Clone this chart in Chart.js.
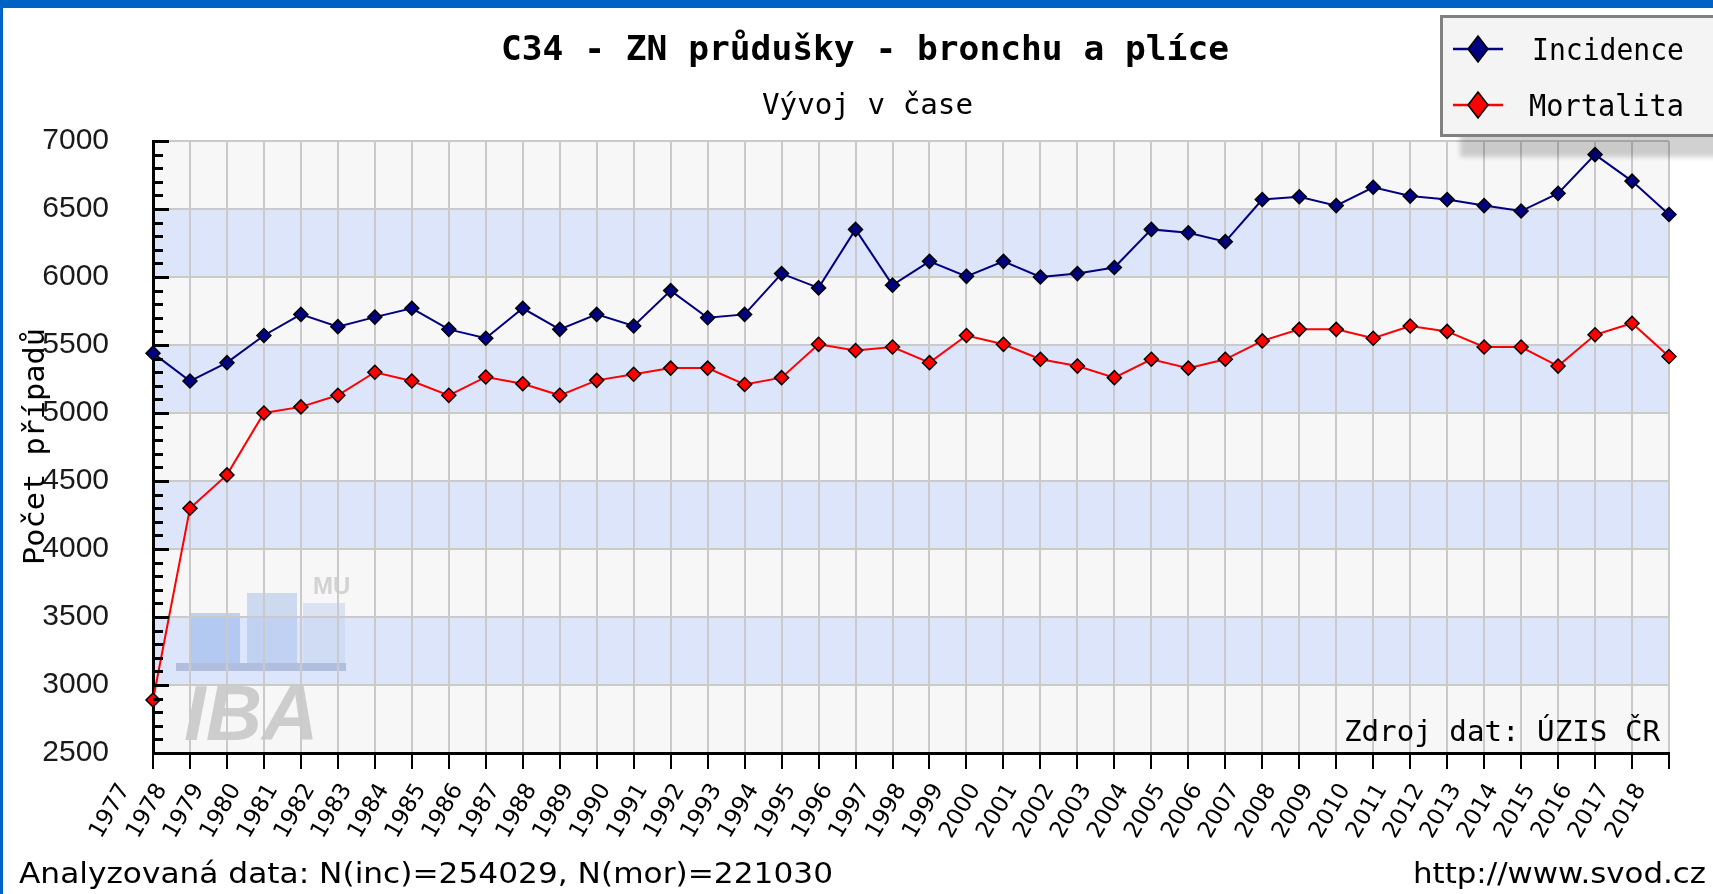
<!DOCTYPE html>
<html>
<head>
<meta charset="utf-8">
<script src="https://cdn.jsdelivr.net/npm/chart.js@4.4.1/dist/chart.umd.min.js"></script>
<style>
html,body{margin:0;padding:0;background:#fff;}
#wrap{position:relative;width:1713px;height:894px;overflow:hidden;background:#fff;}
#c{position:absolute;left:0;top:0;}
.t{position:absolute;white-space:pre;line-height:1;transform-origin:0 0;color:#000;}
#topbar{position:absolute;left:0;top:0;width:1713px;height:8px;background:#0062c4;}
#leftbar{position:absolute;left:0;top:0;width:3px;height:894px;background:#0062c4;}
#legend{position:absolute;left:1440px;top:15px;width:300px;height:116px;border:3px solid #808080;background:#f4f4f4;box-shadow:20px 20px 5px rgba(0,0,0,0.18);}
.lg{position:absolute;}
</style>
</head>
<body>
<div id="wrap">
  <canvas id="c" width="1713" height="894"></canvas>
  <div id="topbar"></div>
  <div id="leftbar"></div>
  <div id="legend"></div>
</div>
<script>
// ---- data ----
const years = ['1977','1978','1979','1980','1981','1982','1983','1984','1985','1986','1987','1988','1989','1990',
  '1991','1992','1993','1994','1995','1996','1997','1998','1999','2000','2001','2002','2003','2004',
  '2005','2006','2007','2008','2009','2010','2011','2012','2013','2014','2015','2016','2017','2018'];
const incidence = [5440,5235,5370,5570,5725,5635,5705,5770,5615,5550,5770,5615,5725,5640,
  5900,5700,5725,6025,5920,6350,5940,6115,6005,6115,6000,6025,6070,6350,
  6325,6260,6570,6590,6525,6660,6595,6570,6525,6485,6615,6900,6705,6460];
const mortality = [2890,4300,4545,5000,5045,5130,5300,5235,5130,5265,5215,5130,5240,5285,
  5330,5330,5210,5260,5505,5460,5485,5370,5570,5505,5395,5345,5260,5395,
  5330,5395,5530,5615,5615,5550,5640,5600,5485,5485,5345,5575,5660,5415];
const yTickValues = [2500,3000,3500,4000,4500,5000,5500,6000,6500,7000];
const seriesNames = ['Incidence','Mortalita'];
const titleText = 'C34 - ZN průdušky - bronchu a plíce';
const subtitleText = 'Vývoj v čase';
const yTitleText = 'Počet případů';
const footerLeft = 'Analyzovaná data: N(inc)=254029, N(mor)=221030';
const footerRight = 'http://www.svod.cz';
const sourceText = 'Zdroj dat: ÚZIS ČR';

// ---- plugins ----
const bandsPlugin = {
  id: 'bands',
  beforeDraw(chart) {
    const {ctx, chartArea: a, scales: {y}} = chart;
    ctx.save();
    ctx.fillStyle = '#f7f7f7';
    ctx.fillRect(a.left, a.top, a.right - a.left, a.bottom - a.top);
    ctx.fillStyle = '#dde5fb';
    for (let i = 0; i < yTickValues.length - 1; i++) {
      if (i % 2 === 1) {
        const y1 = y.getPixelForValue(yTickValues[i + 1]);
        const y0 = y.getPixelForValue(yTickValues[i]);
        ctx.fillRect(a.left, y1, a.right - a.left, y0 - y1);
      }
    }
    // IBA watermark
    ctx.globalAlpha = 0.55;
    ctx.fillStyle = '#8fb2ea';
    ctx.fillRect(190, 613, 50, 50);
    ctx.fillStyle = '#a9c1ea';
    ctx.fillRect(247, 593, 50, 70);
    ctx.fillStyle = '#c4d3ee';
    ctx.fillRect(303, 603, 42, 60);
    ctx.fillStyle = '#8d9fc8';
    ctx.fillRect(176, 663, 170, 8);
    ctx.globalAlpha = 1;
    ctx.fillStyle = '#cdcdcd';
    ctx.font = 'italic bold 78px "Liberation Sans"';
    ctx.textBaseline = 'alphabetic';
    ctx.fillText('IBA', 184, 740);
    ctx.font = 'bold 24px "Liberation Sans"';
    ctx.fillStyle = '#d2d2d2';
    ctx.fillText('MU', 313, 594);
    ctx.restore();
  }
};
const yTicksPlugin = {
  id: 'yInwardTicks',
  afterDatasetsDraw(chart) {
    const {ctx, chartArea: a, scales: {y}} = chart;
    ctx.save();
    ctx.strokeStyle = '#000';
    ctx.lineWidth = 3;
    const lo = yTickValues[0], hi = yTickValues[yTickValues.length - 1];
    for (let v = lo; v <= hi; v += 100) {
      const py = Math.round(y.getPixelForValue(v)) + 0.5;
      const len = (v % 500 === 0) ? 16 : 10;
      ctx.beginPath();
      ctx.moveTo(a.left, py);
      ctx.lineTo(a.left + len, py);
      ctx.stroke();
    }
    ctx.restore();
  }
};

const ctx = document.getElementById('c').getContext('2d');
const chart = new Chart(ctx, {
  type: 'line',
  data: {
    labels: years,
    datasets: [
      {
        label: seriesNames[0], data: incidence,
        borderColor: '#000080', backgroundColor: '#000080', borderWidth: 2,
        pointStyle: 'rectRot', pointRadius: 7, pointBorderColor: '#000', pointBorderWidth: 1.5,
        pointBackgroundColor: '#000080', tension: 0, clip: false
      },
      {
        label: seriesNames[1], data: mortality,
        borderColor: '#ff0000', backgroundColor: '#ff0000', borderWidth: 2,
        pointStyle: 'rectRot', pointRadius: 7, pointBorderColor: '#000', pointBorderWidth: 1.5,
        pointBackgroundColor: '#ff0000', tension: 0, clip: false
      }
    ]
  },
  options: {
    responsive: false,
    animation: false,
    devicePixelRatio: 1,
    layout: {padding: {top: 141, right: 44, left: 0, bottom: 0}},
    plugins: {legend: {display: false}, title: {display: false}, tooltip: {enabled: false}},
    scales: {
      x: {
        type: 'category',
        offset: false,
        grid: {color: '#cacaca', lineWidth: 2, tickColor: '#000', tickWidth: 2, tickLength: 16},
        border: {color: '#000', width: 3},
        ticks: {autoSkip: false, maxRotation: 60, minRotation: 60, padding: 10, labelOffset: -28,
          color: '#000', font: {family: 'DejaVu Sans', size: 23}},
        afterFit(s) { s.height = 141; s.paddingLeft = 0; s.paddingRight = 0; }
      },
      y: {
        min: yTickValues[0], max: yTickValues[yTickValues.length - 1],
        afterBuildTicks(s) { s.ticks = yTickValues.map(v => ({value: v})); },
        grid: {color: '#cacaca', lineWidth: 2, drawTicks: false},
        border: {color: '#000', width: 3},
        ticks: {padding: 44, color: '#1a1a1a', font: {family: 'Liberation Sans', size: 30},
          callback: (v) => String(v)},
        afterFit(s) { s.width = 153; s.paddingTop = 0; s.paddingBottom = 0; }
      }
    }
  },
  plugins: [bandsPlugin, yTicksPlugin]
});

// ---- HTML text overlays ----
const wrap = document.getElementById('wrap');
function placeText(parent, txt, o) {
  const s = document.createElement('span');
  s.className = 't';
  s.textContent = txt;
  s.style.font = `${o.weight || 'normal'} ${o.size}px ${o.family}`;
  if (o.color) s.style.color = o.color;
  parent.appendChild(s);
  const w = s.getBoundingClientRect().width;
  const sx = o.len / w;
  const base = o.size * (o.asc || 0.846);
  if (o.rotate) {
    s.style.left = (o.baseX - base) + 'px';
    s.style.top = o.startY + 'px';
    s.style.transform = `rotate(-90deg) scaleX(${sx})`;
  } else {
    s.style.left = o.x + 'px';
    s.style.top = (o.baseline - base - 3) + 'px';
    s.style.transform = `scaleX(${sx})`;
  }
  return s;
}
const MONO = '"DejaVu Sans Mono"';
placeText(wrap, titleText, {x: 501, len: 728, baseline: 60, size: 33, weight: 'bold', family: MONO});
placeText(wrap, subtitleText, {x: 762, len: 211, baseline: 115, size: 29, family: MONO});
placeText(wrap, yTitleText, {rotate: true, baseX: 42, startY: 565, len: 237, size: 29, family: MONO});
placeText(wrap, sourceText, {x: 1344, len: 316, baseline: 742, size: 28, family: MONO});
placeText(wrap, footerLeft, {x: 19, len: 814, baseline: 884, size: 29, family: '"DejaVu Sans"'});
placeText(wrap, footerRight, {x: 1413, len: 293, baseline: 884, size: 29, family: '"DejaVu Sans"'});

// legend (positions relative to legend box: left 1440+3, top 15+3)
const legend = document.getElementById('legend');
const lx = 1443, ly = 18;
const legendColors = ['#000080', '#ff0000'];
const legendRows = [49, 105];
const legendTextX = [1532, 1529];
seriesNames.forEach((name, i) => {
  const cy = legendRows[i];
  const svgNS = 'http://www.w3.org/2000/svg';
  const svg = document.createElementNS(svgNS, 'svg');
  svg.setAttribute('width', '60'); svg.setAttribute('height', '34');
  svg.setAttribute('class', 'lg');
  svg.style.left = (1450 - lx) + 'px';
  svg.style.top = (cy - 17 - ly) + 'px';
  const line = document.createElementNS(svgNS, 'line');
  line.setAttribute('x1', '3'); line.setAttribute('x2', '53');
  line.setAttribute('y1', '17'); line.setAttribute('y2', '17');
  line.setAttribute('stroke', legendColors[i]); line.setAttribute('stroke-width', '2.5');
  svg.appendChild(line);
  const dia = document.createElementNS(svgNS, 'polygon');
  dia.setAttribute('points', '28,4 38,17 28,30 18,17');
  dia.setAttribute('fill', legendColors[i]); dia.setAttribute('stroke', '#000'); dia.setAttribute('stroke-width', '1.5');
  svg.appendChild(dia);
  legend.appendChild(svg);
  placeText(legend, name, {x: legendTextX[i] - lx, len: 1684 - legendTextX[i], baseline: cy + 11 - ly, size: 30, family: MONO});
});
</script>
</body>
</html>
